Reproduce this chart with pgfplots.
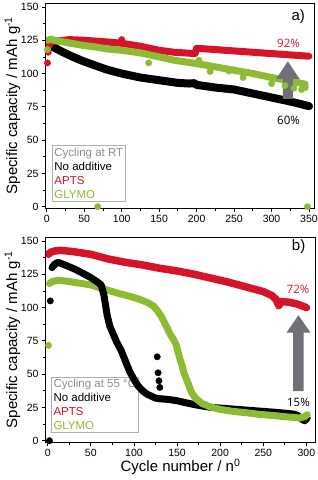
\documentclass[border=0pt]{standalone}
\usepackage{fontspec}
\setmainfont{Liberation Sans}
\newfontfamily\pctfont{Open Sans}
\usepackage{pgfplots}
\pgfplotsset{compat=1.18}
\definecolor{aptsred}{RGB}{213,20,42}
\definecolor{glymogreen}{RGB}{141,188,52}
\definecolor{legendgray}{RGB}{140,140,140}
\definecolor{arrowgray}{RGB}{112,112,118}
\pgfplotsset{
  capstyle/.style={
    width=269pt, height=205pt, scale only axis,
    ymin=-1, ymax=153,
    ytick={0,25,...,150},
    minor y tick num=1, minor x tick num=1,
    tick align=outside, tick pos=left,
    axis line style={line width=1pt},
    every tick/.style={black, line width=0.8pt},
    major tick length=4pt, minor tick length=2.5pt,
    tick label style={font=\fontsize{10.5}{12}\selectfont},
    /pgf/number format/assume math mode=true,
    ylabel={Specific capacity / mAh g\textsuperscript{-1}},
    every axis y label/.style={at={(axis description cs:-0.1245,0.5)}, rotate=90, anchor=center, font=\fontsize{15}{18}\selectfont},
    every axis x label/.style={at={(axis description cs:0.5,-0.12)}, anchor=center, font=\fontsize{15}{18}\selectfont},
  },
  curve/.style={line width=#1, line join=round, line cap=round, no markers},
  dots/.style={only marks, mark=*, mark size=3.2pt, mark options={draw=#1, fill=#1}, color=#1},
}
\begin{document}
\begin{tikzpicture}
\begin{axis}[capstyle, name=top, at={(0,0)}, anchor=north west,
  xmin=-1, xmax=358, xtick={0,50,...,350}]
\node[draw=legendgray!70, fill=white, line width=0.6pt, anchor=north west, align=left, inner sep=2.5pt, font=\fontsize{11.5}{14}\selectfont]
  at (axis description cs:0.021,0.307) {{\color{legendgray}Cycling at RT}\\No additive\\{\color{aptsred}APTS}\\{\color{glymogreen}GLYMO}};
% No additive
\addplot[black, curve=8pt] coordinates {(1,121) (5,121) (10,119.5) (20,116.5) (35,112.5) (50,109) (65,106) (80,103) (100,100) (125,97) (150,95) (175,93) (190,92.5) (197,92.8) (200,91.5) (225,89.5) (250,88) (275,85) (300,82) (325,79) (350,75.5)};
% APTS
\addplot[aptsred, curve=7pt] coordinates {(3,121) (5,124) (15,124.5) (30,125.5) (50,125) (75,124) (95,123) (103,122.5) (125,120.5) (150,117.5) (170,116) (198,115) (200,119) (225,118) (250,117) (275,116) (300,115) (325,114) (350,113)};
\addplot[dots=aptsred] coordinates {(1,108) (2,116) (100,125.5)};
% GLYMO
\addplot[glymogreen, curve=7pt] coordinates {(2,125) (5,126) (10,125) (20,124) (35,122.5) (50,121) (65,120) (80,118.5) (100,117.5) (125,115.5) (150,112.5) (170,110) (200,107.5) (225,105) (250,102.5) (275,100) (300,97) (325,94.5) (345,92)};
\addplot[dots=glymogreen] coordinates {(1,118) (68,0) (348,0) (136,108) (203,110) (218,101.5) (243,102) (262,97) (300,92.5) (318,91) (330,89) (340,88) (345,89.5)};
\node[font=\fontsize{15}{18}\selectfont] at (axis cs:335.7,143) {a)};
\node[font=\pctfont\fontsize{11.5}{14}\selectfont, text=aptsred] at (axis cs:322.7,123) {92\%};
\node[font=\pctfont\fontsize{11.5}{14}\selectfont] at (axis cs:322.7,64.9) {60\%};
\fill[arrowgray] ([xshift=-5pt]axis cs:321.8,81) -- ([xshift=-5pt]axis cs:321.8,96) -- ([xshift=-11.7pt]axis cs:321.8,96) -- (axis cs:321.8,109.2) -- ([xshift=11.7pt]axis cs:321.8,96) -- ([xshift=5pt]axis cs:321.8,96) -- ([xshift=5pt]axis cs:321.8,81) -- cycle;
\end{axis}
\begin{axis}[capstyle, name=bot, at={(0,-234pt)}, anchor=north west,
  xmin=-2, xmax=310, xtick={0,50,...,300},
  xlabel={Cycle number / n\textsuperscript{0}}]
\node[draw=legendgray!70, fill=white, line width=0.6pt, anchor=north west, align=left, inner sep=2.5pt, font=\fontsize{11.5}{14}\selectfont]
  at (axis description cs:0.0175,0.319) {{\color{legendgray}Cycling at 55 °C}\\No additive\\{\color{aptsred}APTS}\\{\color{glymogreen}GLYMO}};
% APTS
\addplot[aptsred, curve=7.5pt] coordinates {(1,140) (3,141.5) (8,142.5) (15,143) (30,142) (50,140) (70,136.5) (90,134) (110,132) (130,129.5) (150,127.5) (170,125) (190,122) (210,119) (230,115.5) (250,112) (260,109) (265,106) (268,101.5) (271,104.5) (280,104) (290,102.5) (300,100)};
% No additive, tail
\addplot[black, curve=7pt] coordinates {(130,31.5) (140,31) (150,30) (160,28.5) (175,26.5) (190,25) (210,24) (230,23) (250,22) (270,21) (285,20) (290,19) (295,16) (298,15) (301,17)};
% GLYMO
\addplot[glymogreen, curve=7pt] coordinates {(2,118) (5,119.5) (12,120.5) (20,120) (35,118.5) (50,117) (65,114) (80,111) (95,108.5) (105,106.5) (115,104) (123,101) (128,97) (132,93) (136,88) (139,84) (142,80) (146,76) (149,72) (151,67) (154,60) (156,56) (158,51) (161,46) (164,41) (167,36) (172,31.5) (179,28) (188,25.5) (200,23.5) (215,22) (230,21) (245,19.8) (260,19) (275,18) (285,17.5) (292,17) (298,18) (301,19.5)};
\addplot[dots=glymogreen] coordinates {(1,71.6)};
% No additive, head
\addplot[black, curve=7pt] coordinates {(5,130) (8,132.5) (12,134) (20,132) (31,129) (40,126) (50,122.5) (58,119) (62,117) (65,110) (67,102) (69,94) (72,86) (76,80) (80,74) (85,68) (90,60) (95,52) (100,46) (105,41) (110,37.5) (115,35) (120,33.5) (125,32) (130,31.5)};
\addplot[dots=black] coordinates {(2,0) (3,105) (127,63) (128,51) (129,45) (130,40)};
\node[font=\fontsize{15}{18}\selectfont] at (axis cs:291,145.5) {b)};
\node[font=\pctfont\fontsize{11.5}{14}\selectfont, text=aptsred] at (axis cs:290.3,113.8) {72\%};
\node[font=\pctfont\fontsize{11.5}{14}\selectfont] at (axis cs:290.8,28.6) {15\%};
\fill[arrowgray] ([xshift=-5.3pt]axis cs:290.8,37.2) -- ([xshift=-5.3pt]axis cs:290.8,81.2) -- ([xshift=-12pt]axis cs:290.8,81.2) -- (axis cs:290.8,94.2) -- ([xshift=12pt]axis cs:290.8,81.2) -- ([xshift=5.3pt]axis cs:290.8,81.2) -- ([xshift=5.3pt]axis cs:290.8,37.2) -- cycle;
\end{axis}
\pgfresetboundingbox
\path[use as bounding box] (-46pt,3pt) rectangle (271pt,-477pt);
\end{tikzpicture}
\end{document}
